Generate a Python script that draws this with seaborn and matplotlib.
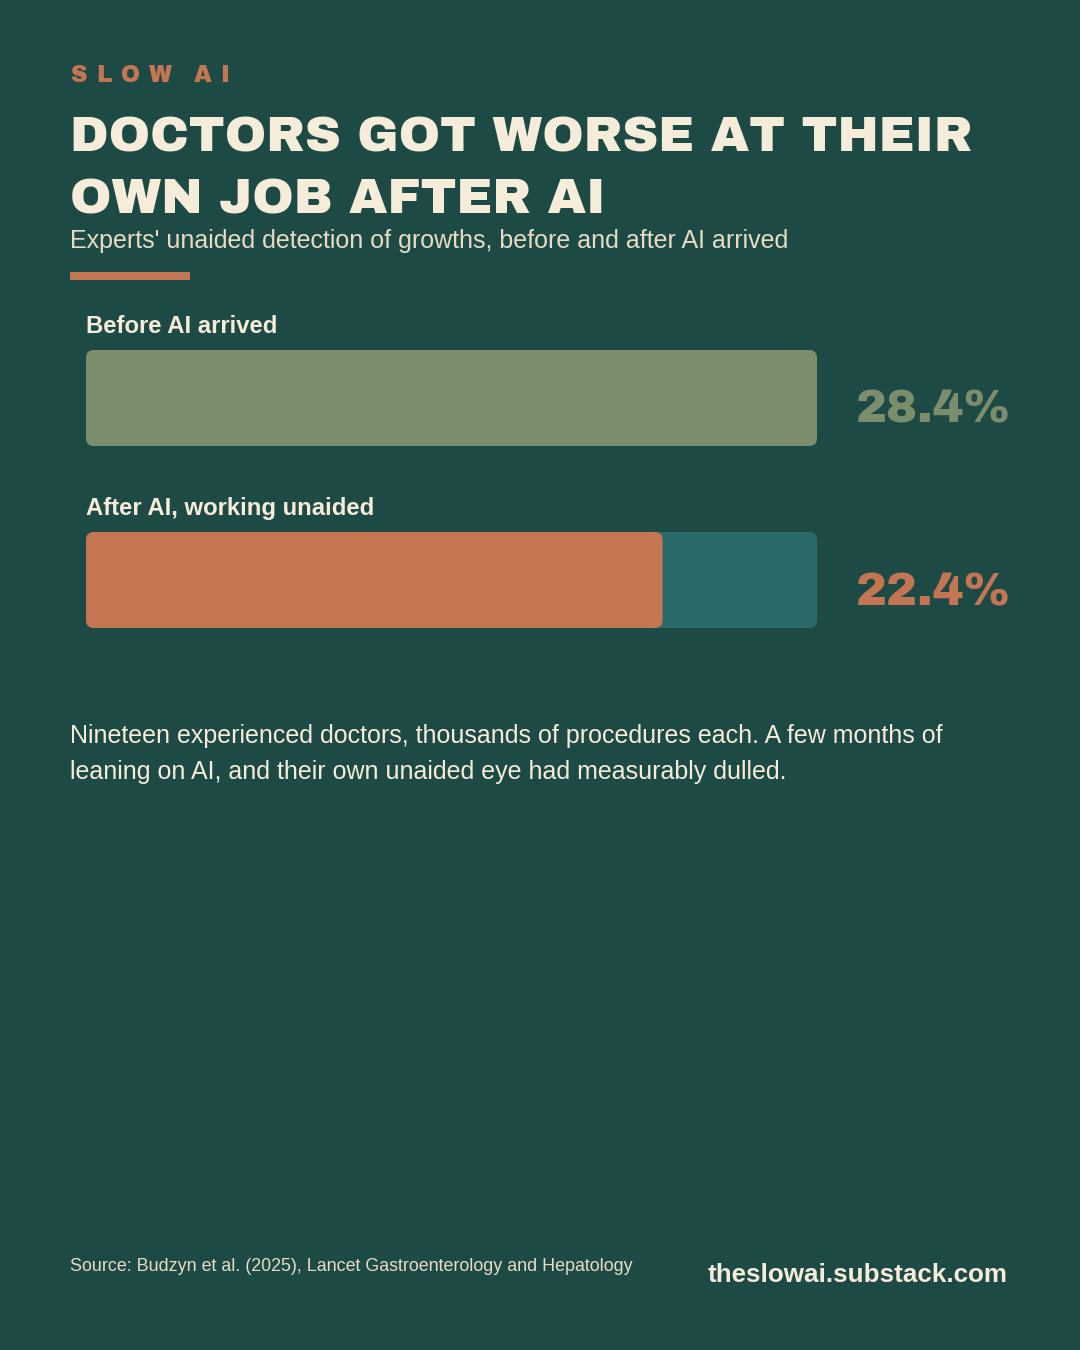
import matplotlib
matplotlib.use("Agg")
import matplotlib.pyplot as plt
from matplotlib.patches import FancyBboxPatch
from matplotlib.transforms import blended_transform_factory
import seaborn as sns
import pandas as pd

# ---- data ----
categories = ["Before AI arrived", "After AI, working unaided"]
values = [28.4, 22.4]
value_labels = ["28.4%", "22.4%"]
scale_max = 28.4

# ---- style ----
BG = "#1e4a46"
CREAM = "#f5ecd9"
CREAM2 = "#e6dcc4"
GREEN = "#7a8d6c"
ORANGE = "#c47551"
TRACK = "#2a6a69"
HEAVY = ["Archivo Black", "Liberation Sans", "DejaVu Sans"]

sns.set_theme(style="white")
plt.rcParams["font.family"] = ["Liberation Sans", "DejaVu Sans"]

W, H = 1080, 1350
fig = plt.figure(figsize=(W / 100, H / 100), dpi=100, facecolor=BG)


def fx(x):
    return x / W


def fy(y):
    return 1 - y / H


# ---- bar axes ----
bar_px = 96
pitch_px = 182
half = bar_px / pitch_px / 2
ax_left, ax_right = 86, 817
ax_top, ax_bot = 350, 628
ax = fig.add_axes([fx(ax_left), fy(ax_bot), (ax_right - ax_left) / W, (ax_bot - ax_top) / H])
ax.set_facecolor(BG)

df = pd.DataFrame({"category": categories, "value": values,
                   "track": [scale_max] * len(categories)})
sns.barplot(data=df, x="track", y="category", color=TRACK, width=2 * half,
            ax=ax, saturation=1)
sns.barplot(data=df, x="value", y="category", hue="category",
            palette=[GREEN, ORANGE], width=2 * half, ax=ax, legend=False,
            saturation=1)
ax.set_xlim(0, scale_max)
ax.set_ylim(len(categories) - 1 + half, -half)
ax.axis("off")

# round the bar corners
x_per_px = scale_max / (ax_right - ax_left)
y_per_px = 1 / pitch_px
radius_px = 8
for p in list(ax.patches):
    x0, y0 = p.get_x(), p.get_y()
    w, h = p.get_width(), p.get_height()
    fc = p.get_facecolor()
    z = p.get_zorder()
    p.remove()
    fb = FancyBboxPatch((x0, y0), w, h,
                        boxstyle=f"round,pad=0,rounding_size={radius_px * x_per_px}",
                        mutation_aspect=y_per_px / x_per_px,
                        facecolor=fc, edgecolor="none", zorder=z)
    ax.add_patch(fb)

# bar labels & values
vt = blended_transform_factory(fig.transFigure, ax.transData)
value_colors = [GREEN, ORANGE]
for i, (cat, lab) in enumerate(zip(categories, value_labels)):
    ax.text(0, i - half - 17 * y_per_px, cat, ha="left", va="baseline",
            fontsize=17.2, fontweight="bold", color=CREAM, clip_on=False)
    ax.text(fx(1011), i + 25 * y_per_px, lab, transform=vt, ha="right",
            va="baseline", fontsize=33.5, family=HEAVY,
            color=value_colors[i], clip_on=False)

# ---- header ----
# letter-spaced kicker
fig.canvas.draw()
renderer = fig.canvas.get_renderer()
x = 71
for ch in "SLOW AI":
    if ch == " ":
        x += 13
        continue
    t = fig.text(fx(x), fy(82), ch, ha="left", va="baseline", fontsize=16.5,
                 family=HEAVY, color=ORANGE)
    bb = t.get_window_extent(renderer)
    x += bb.width + 9

title_kw = dict(ha="left", va="baseline", fontsize=35.8, family=HEAVY,
                color=CREAM)
fig.text(fx(70), fy(152), "DOCTORS GOT WORSE AT THEIR", **title_kw)
fig.text(fx(70), fy(213), "OWN JOB AFTER AI", **title_kw)

fig.text(fx(70), fy(248),
         "Experts' unaided detection of growths, before and after AI arrived",
         ha="left", va="baseline", fontsize=18, color=CREAM2)

fig.add_artist(plt.Rectangle((fx(70), fy(280)), 120 / W, 8 / H,
                             transform=fig.transFigure, facecolor=ORANGE,
                             edgecolor="none"))

# ---- body ----
body_kw = dict(ha="left", va="baseline", fontsize=18, color=CREAM)
fig.text(fx(70), fy(743),
         "Nineteen experienced doctors, thousands of procedures each. A few months of",
         **body_kw)
fig.text(fx(70), fy(779),
         "leaning on AI, and their own unaided eye had measurably dulled.",
         **body_kw)

# ---- footer ----
fig.text(fx(70), fy(1271),
         "Source: Budzyn et al. (2025), Lancet Gastroenterology and Hepatology",
         ha="left", va="baseline", fontsize=12.9, color=CREAM2)
fig.text(fx(1008), fy(1282), "theslowai.substack.com", ha="right",
         va="baseline", fontsize=18.7, fontweight="bold", color=CREAM)

fig.savefig("out.png", dpi=100, facecolor=BG)
